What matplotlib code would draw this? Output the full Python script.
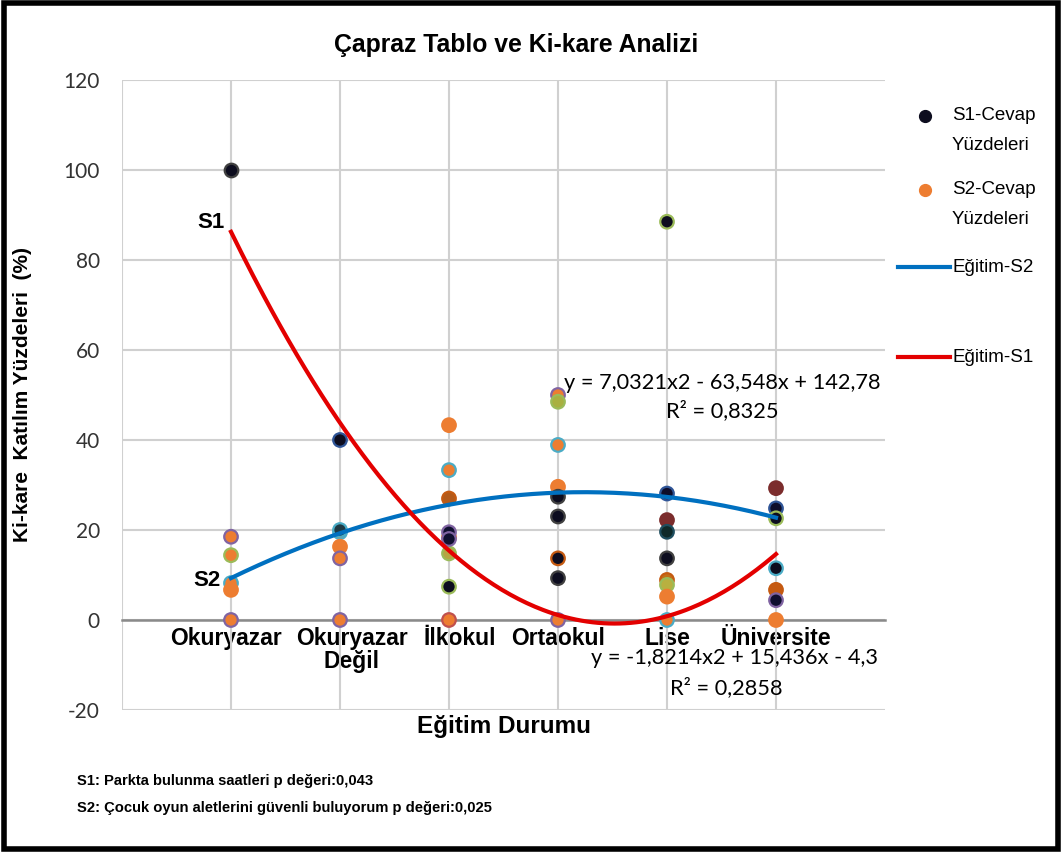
import numpy as np
import matplotlib
matplotlib.use('Agg')
import matplotlib.pyplot as plt
import matplotlib.transforms as mtransforms
from matplotlib import font_manager as fm
from matplotlib.lines import Line2D
from matplotlib.patches import Rectangle

# data
categories = ['Okuryazar', 'Okuryazar\nDeğil', 'İlkokul', 'Ortaokul', 'Lise', 'Üniversite']

s1_values = [[100], [40, 20], [27, 19.5, 18, 7.4], [27.4, 23, 13.7, 9.3],
             [88.5, 28.1, 22.2, 19.6, 13.7], [29.3, 24.8, 22.6, 11.5, 4.4]]
s1_faces = [['#0d0d1f'], ['#0d0d1f', '#1f3a44'], ['#b35a1a', '#101030', '#101030', '#0d0d1f'],
            ['#0d0d1f', '#0d0d1f', '#0d0d1f', '#0d0d1f'],
            ['#0d0d1f', '#0d0d2a', '#7b2c2c', '#0f2a2a', '#0d0d1f'],
            ['#7b2c2c', '#0d0d2a', '#0d0d1f', '#0d0d1f', '#101030']]
s1_edges = [['#404040'], ['#2f5597', '#4bacc6'], ['#c55a11', '#8064a2', '#8064a2', '#9bbb59'],
            ['#404040', '#404040', '#c55a11', '#404040'],
            ['#9bbb59', '#2f5597', '#7b2c2c', '#1f4e5f', '#404040'],
            ['#7b2c2c', '#2f5597', '#9bbb59', '#4bacc6', '#8064a2']]

s2_values = [[18.5, 14.4, 8.2, 6.7, 0], [19.5, 16.3, 13.7, 0], [43.3, 33.3, 18.4, 14.8, 0],
             [50, 48.5, 38.9, 29.6, 0], [8.9, 7.8, 5.2, 0], [6.7, 0]]
s2_faces = [['#ed7d31', '#ed7d31', '#ed7d31', '#ed7d31', '#ed7d31'],
            ['#ed7d31', '#ed7d31', '#ed7d31', '#ed7d31'],
            ['#ed7d31', '#ed7d31', '#ed7d31', '#b5a642', '#ed7d31'],
            ['#ed7d31', '#a9b040', '#ed7d31', '#ed7d31', '#ed7d31'],
            ['#c0701a', '#b8b040', '#ed7d31', '#ed7d31'],
            ['#c55a11', '#ed7d31']]
s2_edges = [['#8064a2', '#9bbb59', '#4bacc6', '#ed7d31', '#8064a2'],
            ['#4bacc6', '#ed7d31', '#8064a2', '#8064a2'],
            ['#ed7d31', '#4bacc6', '#ed7d31', '#9bbb59', '#c0504d'],
            ['#8064a2', '#9bbb59', '#4bacc6', '#ed7d31', '#8064a2'],
            ['#c55a11', '#9bbb59', '#ed7d31', '#4bacc6'],
            ['#c55a11', '#ed7d31']]

# trendline coefficients shown on the chart
s1_trend = [7.0321, -63.548, 142.78]
s2_trend = [-1.8214, 15.436, -4.3]
s1_eq = 'y = 7,0321x2 - 63,548x + 142,78'
s1_r2 = 'R² = 0,8325'
s2_eq = 'y = -1,8214x2 + 15,436x - 4,3'
s2_r2 = 'R² = 0,2858'

y_ticks = [-20, 0, 20, 40, 60, 80, 100, 120]


def has_font(name):
    try:
        fm.findfont(name, fallback_to_default=False)
        return True
    except Exception:
        return False


calibri = 'Lato' if has_font('Lato') else 'DejaVu Sans'

plt.rcParams['font.family'] = ['Liberation Sans', 'DejaVu Sans']

fig = plt.figure(figsize=(10.62, 8.52), dpi=100)
ax = fig.add_axes([122 / 1062, 1 - 710 / 852, (885 - 122) / 1062, (710 - 80) / 852])

x = np.arange(1, len(categories) + 1)

for i, xi in enumerate(x):
    ax.scatter([xi] * len(s2_values[i]), s2_values[i], s=95, c=s2_faces[i],
               edgecolors=s2_edges[i], linewidths=1.6, zorder=3)
    ax.scatter([xi] * len(s1_values[i]), s1_values[i], s=95, c=s1_faces[i],
               edgecolors=s1_edges[i], linewidths=1.6, zorder=4)

xs = np.linspace(1, 6, 200)
ax.plot(xs, np.polyval(s2_trend, xs), color='#0070c0', linewidth=3, zorder=5)
ax.plot(xs, np.polyval(s1_trend, xs), color='#e30000', linewidth=3, zorder=5)

# spine first: moving it resets the ticks
for side in ['top', 'right', 'left']:
    ax.spines[side].set_visible(False)
ax.spines['bottom'].set_position(('data', 0))
ax.spines['bottom'].set_color('#8a8a8a')
ax.spines['bottom'].set_linewidth(1.8)
ax.spines['bottom'].set_zorder(2)

ax.set_xlim(0, 7)
ax.set_ylim(-20, 120)
ax.set_yticks(y_ticks)
ax.set_yticklabels([str(v) for v in y_ticks], family=calibri, fontsize=15, color='#333333')
ax.set_xticks(x)
ax.set_xticklabels(categories, fontsize=16.5, fontweight='bold', linespacing=1.0)
ax.tick_params(axis='both', length=0)
ax.tick_params(axis='y', pad=16)
ax.tick_params(axis='x', pad=5)

# nudge the crowded labels apart like the original
label_shift = [-5, 12, 11, 0, 0, 0]
for lbl, dx in zip(ax.get_xticklabels(), label_shift):
    lbl.set_transform(lbl.get_transform() + mtransforms.ScaledTranslation(dx / 100, 0, fig.dpi_scale_trans))

# vertical gridlines at the categories and the left edge
for gx in [0] + list(x):
    ax.axvline(gx, color='#d0d0d0', linewidth=1.5, zorder=1)
ax.grid(axis='y', color='#d0d0d0', linewidth=1.5, zorder=1)
ax.set_axisbelow(True)

ax.set_ylabel('Ki-kare  Katılım Yüzdeleri  (%)', fontsize=15, fontweight='bold')
ax.yaxis.set_label_coords(-0.118, 0.5)
fig.text(504 / 1062, 1 - 727 / 852, 'Eğitim Durumu', ha='center', va='center',
         fontsize=17.5, fontweight='bold')

fig.text(516 / 1062, 1 - 45 / 852, 'Çapraz Tablo ve Ki-kare Analizi', ha='center', va='center',
         fontsize=17.8, fontweight='bold')

# S1 / S2 markers near the curve starts
fig.text(225 / 1062, 1 - 222 / 852, 'S1', ha='right', va='center', fontsize=16, fontweight='bold')
fig.text(221 / 1062, 1 - 580 / 852, 'S2', ha='right', va='center', fontsize=16, fontweight='bold')

# trendline equations
fig.text(880 / 1062, 1 - 383 / 852, s1_eq, ha='right', va='center', family=calibri, fontsize=15.7)
fig.text(779 / 1062, 1 - 411 / 852, s1_r2, ha='right', va='center', family=calibri, fontsize=15.7)
fig.text(878 / 1062, 1 - 658 / 852, s2_eq, ha='right', va='center', family=calibri, fontsize=15.7)
fig.text(783 / 1062, 1 - 688 / 852, s2_r2, ha='right', va='center', family=calibri, fontsize=15.7)

# legend drawn by hand to keep the uneven spacing
leg_fs = 13.5
fig.add_artist(Line2D([925 / 1062], [1 - 116 / 852], marker='o', markersize=8.5,
                      markerfacecolor='#0d0d1f', markeredgecolor='#0d0d1f', linestyle='none'))
fig.text(952 / 1062, 1 - 116 / 852, 'S1-Cevap', va='center', fontsize=leg_fs)
fig.text(952 / 1062, 1 - 146 / 852, 'Yüzdeleri', va='center', fontsize=leg_fs)
fig.add_artist(Line2D([925 / 1062], [1 - 190 / 852], marker='o', markersize=8.5,
                      markerfacecolor='#ed7d31', markeredgecolor='#ed7d31', linestyle='none'))
fig.text(952 / 1062, 1 - 190 / 852, 'S2-Cevap', va='center', fontsize=leg_fs)
fig.text(952 / 1062, 1 - 219 / 852, 'Yüzdeleri', va='center', fontsize=leg_fs)
fig.add_artist(Line2D([898 / 1062, 950 / 1062], [1 - 267 / 852] * 2, color='#0070c0', linewidth=3))
fig.text(952 / 1062, 1 - 267 / 852, 'Eğitim-S2', va='center', fontsize=leg_fs)
fig.add_artist(Line2D([898 / 1062, 950 / 1062], [1 - 357 / 852] * 2, color='#e30000', linewidth=3))
fig.text(952 / 1062, 1 - 357 / 852, 'Eğitim-S1', va='center', fontsize=leg_fs)

# footnotes
fig.text(77 / 1062, 1 - 781 / 852, 'S1: Parkta bulunma saatleri p değeri:0,043', va='center',
         fontsize=10.6, fontweight='bold')
fig.text(77 / 1062, 1 - 808 / 852, 'S2: Çocuk oyun aletlerini güvenli buluyorum p değeri:0,025',
         va='center', fontsize=10.6, fontweight='bold')

# frame round the picture
fig.add_artist(Rectangle((0.004, 0.004), 0.992, 0.992, transform=fig.transFigure,
                         fill=False, edgecolor='black', linewidth=4))

fig.savefig('out.png', dpi=100)
